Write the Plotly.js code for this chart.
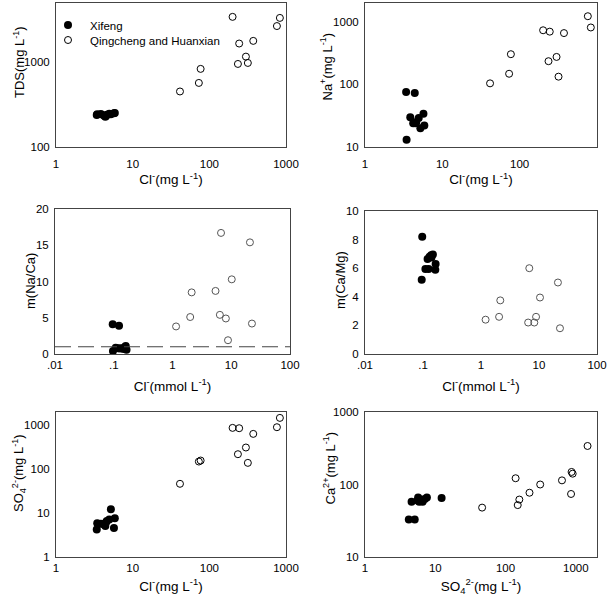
<!DOCTYPE html>
<html>
<head>
<meta charset="utf-8">
<script src="https://cdn.plot.ly/plotly-3.0.1.min.js"></script>
<style>html,body{margin:0;padding:0;background:#fff;}#chart{width:609px;height:598px;}</style>
</head>
<body>
<div id="chart"></div>
<script>
// ---- Qingcheng and Huanxian samples ----
const clQH    = [41.4, 73, 77, 201, 236, 245, 300, 318, 374, 761, 832];      // Cl- mg/L
const tdsQH   = [452, 570, 835, 3430, 955, 1663, 1165, 981, 1786, 2673, 3334];
const naQH    = [104, 148, 304, 733, 235, 697, 275, 133, 661, 1230, 813];
const so4QH   = [46.4, 149, 157, 870, 219, 855, 311, 139, 635, 901, 1468];
const caQH    = [48, 52, 62, 149, 77, 74, 100, 122, 114, 141, 340];
const clMmolQH  = [1.15, 2.0, 2.12, 5.4, 6.4, 6.7, 8.1, 8.8, 10.2, 20.8, 22.5];
const naCaQH    = [3.8, 5.1, 8.5, 8.7, 5.4, 16.7, 4.9, 1.9, 10.3, 15.4, 4.2];
const clMmolQH2 = [1.2, 2.05, 2.15, 6.5, 6.8, 8.3, 8.9, 10.4, 21.2, 23.0];
const caMgQH    = [2.4, 2.6, 3.75, 2.2, 6.0, 2.2, 2.6, 3.95, 5.0, 1.8];

// ---- Xifeng samples ----
const clXF   = [3.4, 3.45, 3.85, 4.2, 4.4, 4.5, 4.6, 4.95, 5.2, 5.7, 5.85];
const tdsXF  = [238, 243, 245, 236, 228, 232, 240, 246, 244, 250, 252];
const naXF   = [76, 13, 30, 24, 73, 24, 25, 29, 20, 34, 22];
const so4XF  = [4.2, 5.9, 5.7, 5.6, 5.1, 6.2, 6.6, 7.1, 12.3, 4.6, 7.6];
const caXF   = [33, 58, 66, 60, 33, 62, 58, 63, 65, 58, 66];
const clMmolXF  = [0.096, 0.123, 0.097, 0.108, 0.118, 0.128, 0.138, 0.148, 0.155, 0.16, 0.165];
const naCaXF    = [4.1, 3.9, 0.4, 0.85, 0.8, 0.75, 0.8, 0.7, 0.95, 1.1, 0.6];
const clMmolXF2 = [0.097, 0.095, 0.11, 0.125, 0.12, 0.13, 0.138, 0.148, 0.14, 0.165, 0.163];
const caMgXF    = [8.2, 5.2, 5.95, 5.95, 6.65, 6.8, 6.9, 6.95, 6.75, 6.3, 5.9];

// ---- tick labels ----
const logTicks1 = [1, 10, 100, 1000];
const logTicks1Text = ['1', '10', '100', '1000'];
const tdsTicks = [100, 1000, 5000];
const tdsTicksText = ['100', '1000', '5000'];
const naTicks = [10, 100, 1000];
const naTicksText = ['10', '100', '1000'];
const mmolTicks = [0.01, 0.1, 1, 10, 100];
const mmolTicksText = ['.01', '.1', '1', '10', '100'];
const so4Ticks = [1, 10, 100, 1000];
const so4TicksText = ['1', '10', '100', '1000'];
const caTicks = [10, 100, 1000];
const caTicksText = ['10', '100', '1000'];
const refRatio = 1;

const W = 609, H = 598;
const FONT = 'Liberation Sans, Arial, sans-serif';
const filled = {symbol: 'circle', size: 8, color: '#000'};
const openM = {symbol: 'circle-open', size: 7, color: '#000', line: {width: 1, color: '#000'}};
const openG = {symbol: 'circle-open', size: 7, color: '#555', line: {width: 1, color: '#555'}};

function xd(a, b) { return [a / W, b / W]; }
function yd(top, bot) { return [1 - bot / H, 1 - top / H]; }

const traces = [
  {x: clXF, y: tdsXF, mode: 'markers', marker: filled, name: 'Xifeng', xaxis: 'x', yaxis: 'y', legend: 'legend'},
  {x: clQH, y: tdsQH, mode: 'markers', marker: openM, name: 'Qingcheng and Huanxian', xaxis: 'x', yaxis: 'y', legend: 'legend2'},
  {x: clXF, y: naXF, mode: 'markers', marker: filled, showlegend: false, xaxis: 'x2', yaxis: 'y2'},
  {x: clQH, y: naQH, mode: 'markers', marker: openM, showlegend: false, xaxis: 'x2', yaxis: 'y2'},
  {x: clMmolXF, y: naCaXF, mode: 'markers', marker: filled, showlegend: false, xaxis: 'x3', yaxis: 'y3'},
  {x: clMmolQH, y: naCaQH, mode: 'markers', marker: openG, showlegend: false, xaxis: 'x3', yaxis: 'y3'},
  {x: clMmolXF2, y: caMgXF, mode: 'markers', marker: filled, showlegend: false, xaxis: 'x4', yaxis: 'y4'},
  {x: clMmolQH2, y: caMgQH, mode: 'markers', marker: openG, showlegend: false, xaxis: 'x4', yaxis: 'y4'},
  {x: clXF, y: so4XF, mode: 'markers', marker: filled, showlegend: false, xaxis: 'x5', yaxis: 'y5'},
  {x: clQH, y: so4QH, mode: 'markers', marker: openM, showlegend: false, xaxis: 'x5', yaxis: 'y5'},
  {x: so4XF, y: caXF, mode: 'markers', marker: filled, showlegend: false, xaxis: 'x6', yaxis: 'y6'},
  {x: so4QH, y: caQH, mode: 'markers', marker: openM, showlegend: false, xaxis: 'x6', yaxis: 'y6'}
];

const base = {showline: true, mirror: true, linecolor: '#444', linewidth: 1, showgrid: false, zeroline: false,
  ticks: '', tickfont: {family: FONT, size: 11.5, color: '#000'}, fixedrange: true};
function ax(o) { return Object.assign({}, base, o); }
function t(txt, st) { return {text: txt, font: {family: FONT, size: 13.5, color: '#000'}, standoff: st}; }

const clTitle = 'Cl<sup>-</sup>(mg L<sup>-1</sup>)';
const clmTitle = 'Cl<sup>-</sup>(mmol L<sup>-1</sup>)';
const so4Title = 'SO<sub>4</sub><sup>2-</sup>(mg L<sup>-1</sup>)';

// y-axis titles placed as rotated labels next to each panel
const yTitles = [
  {text: 'TDS(mg L<sup>-1</sup>)', px: 19, py: 62},
  {text: 'Na<sup>+</sup>(mg L<sup>-1</sup>)', px: 326.5, py: 67},
  {text: 'm(Na/Ca)', px: 30, py: 281},
  {text: 'm(Ca/Mg)', px: 340, py: 280},
  {text: so4Title, px: 19, py: 473},
  {text: 'Ca<sup>2+</sup>(mg L<sup>-1</sup>)', px: 329.5, py: 468}
];

function leg(cy) {
  return {x: 46 / W, y: 1 - cy / H, xanchor: 'left', yanchor: 'middle', bgcolor: 'rgba(0,0,0,0)',
    font: {family: FONT, size: 11.5, color: '#000'}, itemwidth: 34};
}

const layout = {
  width: W, height: H, margin: {l: 0, r: 0, t: 0, b: 0}, paper_bgcolor: '#fff', plot_bgcolor: '#fff',
  font: {family: FONT, color: '#000'},
  showlegend: true,
  legend: leg(25),
  legend2: leg(40),
  xaxis: ax({type: 'log', range: [0, 3], domain: xd(56, 286), anchor: 'y', tickvals: logTicks1, ticktext: logTicks1Text, ticklabelstandoff: 6, title: t(clTitle, 3)}),
  yaxis: ax({type: 'log', range: [2, Math.log10(5000)], domain: yd(3, 147), anchor: 'x', tickvals: tdsTicks, ticktext: tdsTicksText, ticklabelstandoff: 3}),
  xaxis2: ax({type: 'log', range: [0, 3], domain: xd(365, 597), anchor: 'y2', tickvals: logTicks1, ticktext: logTicks1Text, ticklabelstandoff: 6, title: t(clTitle, 3)}),
  yaxis2: ax({type: 'log', range: [1, Math.log10(2000)], domain: yd(3, 147), anchor: 'x2', tickvals: naTicks, ticktext: naTicksText, ticklabelstandoff: 3}),
  xaxis3: ax({type: 'log', range: [-2, 2], domain: xd(55, 290), anchor: 'y3', tickvals: mmolTicks, ticktext: mmolTicksText, title: t(clmTitle, 11)}),
  yaxis3: ax({range: [0, 20], domain: yd(209, 354), anchor: 'x3', tickvals: [0, 5, 10, 15, 20], ticklabelstandoff: 3}),
  xaxis4: ax({type: 'log', range: [-2, 2], domain: xd(365, 597), anchor: 'y4', tickvals: mmolTicks, ticktext: mmolTicksText, title: t(clmTitle, 11)}),
  yaxis4: ax({range: [0, 10], domain: yd(211, 354), anchor: 'x4', tickvals: [0, 2, 4, 6, 8, 10], ticklabelstandoff: 3}),
  xaxis5: ax({type: 'log', range: [0, 3], domain: xd(56, 286), anchor: 'y5', tickvals: logTicks1, ticktext: logTicks1Text, title: t(clTitle, 8)}),
  yaxis5: ax({type: 'log', range: [0, Math.log10(2000)], domain: yd(412, 557), anchor: 'x5', tickvals: so4Ticks, ticktext: so4TicksText, ticklabelstandoff: 3}),
  xaxis6: ax({type: 'log', range: [0, Math.log10(2000)], domain: xd(365, 597), anchor: 'y6', tickvals: so4Ticks, ticktext: so4TicksText, title: t(so4Title, 8)}),
  yaxis6: ax({type: 'log', range: [1, 3], domain: yd(412, 557), anchor: 'x6', tickvals: caTicks, ticktext: caTicksText, ticklabelstandoff: 3}),
  annotations: yTitles.map(a => ({text: a.text, xref: 'paper', yref: 'paper', x: a.px / W, y: 1 - a.py / H,
    xanchor: 'center', yanchor: 'middle', textangle: -90, showarrow: false,
    font: {family: FONT, size: 13, color: '#000'}})),
  shapes: [
    {type: 'line', xref: 'x3 domain', yref: 'y3', x0: 0, x1: 1, y0: refRatio, y1: refRatio,
     line: {color: '#444', width: 1, dash: '16px,7px'}}
  ]
};

Plotly.newPlot('chart', traces, layout, {displayModeBar: false, staticPlot: true});
</script>
</body>
</html>
